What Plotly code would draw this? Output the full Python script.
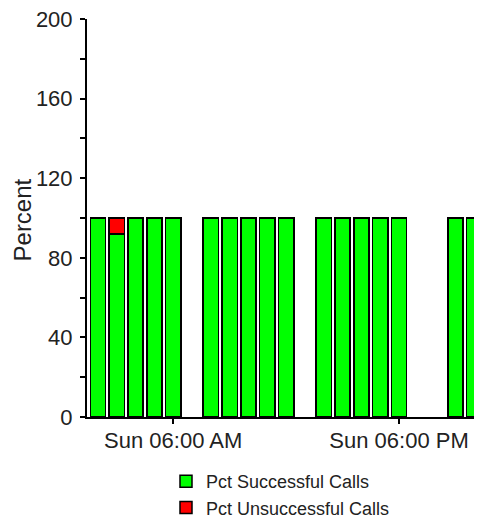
import plotly.graph_objects as go

# Hourly samples on Sunday (hours that have bars)
hours = ["2011-01-02 02:00", "2011-01-02 03:00", "2011-01-02 04:00", "2011-01-02 05:00", "2011-01-02 06:00",
         "2011-01-02 08:00", "2011-01-02 09:00", "2011-01-02 10:00", "2011-01-02 11:00", "2011-01-02 12:00",
         "2011-01-02 14:00", "2011-01-02 15:00", "2011-01-02 16:00", "2011-01-02 17:00", "2011-01-02 18:00",
         "2011-01-02 21:00", "2011-01-02 22:00"]
pct_successful = [100, 92, 100, 100, 100,
                  100, 100, 100, 100, 100,
                  100, 100, 100, 100, 100,
                  100, 100]
pct_unsuccessful = [0, 8, 0, 0, 0,
                    0, 0, 0, 0, 0,
                    0, 0, 0, 0, 0,
                    0, 0]

x_tick_vals = ["2011-01-02 06:00", "2011-01-02 18:00"]
x_tick_text = ["Sun 06:00 AM", "Sun 06:00 PM"]
y_tick_vals = list(range(0, 201, 20))
y_tick_text = [str(v) if v % 40 == 0 else "" for v in y_tick_vals]
y_title = "Percent"

FONT = "Liberation Sans, Arial, sans-serif"
bar_width_ms = 0.81 * 3600 * 1000

fig = go.Figure()
fig.add_trace(go.Bar(
    x=hours, y=pct_successful, name="Pct Successful Calls",
    width=bar_width_ms,
    marker=dict(color="#00FF00", line=dict(color="black", width=1.5)),
))
fig.add_trace(go.Bar(
    x=hours, y=[v if v else None for v in pct_unsuccessful], name="Pct Unsuccessful Calls",
    width=bar_width_ms,
    marker=dict(color="#FF0000", line=dict(color="black", width=1.5)),
))

# the page body adds an 8px margin; the figure is offset to compensate
fig.update_layout(
    width=474, height=517, autosize=False,
    barmode="stack",
    paper_bgcolor="white", plot_bgcolor="white",
    margin=dict(l=79, r=0, t=11, b=108, pad=0, autoexpand=False),
    font=dict(family=FONT, size=22, color="#222222"),
    showlegend=True,
    legend=dict(
        x=0.2, y=-0.1156, xanchor="left", yanchor="top",
        orientation="v", traceorder="normal",
        font=dict(size=18, color="#222222"),
        bgcolor="rgba(0,0,0,0)", tracegroupgap=0,
    ),
    xaxis=dict(
        type="date", automargin=False,
        range=["2011-01-02 01:25:15", "2011-01-02 22:24:20"],
        tickmode="array", tickvals=x_tick_vals, ticktext=x_tick_text,
        ticks="outside", ticklen=5, tickwidth=1.5, tickcolor="black",
        showline=True, linecolor="black", linewidth=2,
        showgrid=False, zeroline=False,
        tickfont=dict(size=22),
        ticklabelstandoff=-2, ticklabeloverflow="allow",
    ),
    yaxis=dict(
        range=[0, 200], automargin=False,
        tickmode="array", tickvals=y_tick_vals, ticktext=y_tick_text,
        ticks="outside", ticklen=5, tickwidth=1.5, tickcolor="black",
        showline=True, linecolor="black", linewidth=2,
        showgrid=False, zeroline=False,
        tickfont=dict(size=22),
        ticklabelstandoff=3, ticklabeloverflow="allow",
    ),
    annotations=[dict(
        text=y_title, textangle=-90, showarrow=False,
        xref="paper", yref="paper", x=-0.1608, y=0.495,
        xanchor="center", yanchor="middle",
        font=dict(size=24, color="#222222", family=FONT),
    )],
)

fig.write_html("out.html")
